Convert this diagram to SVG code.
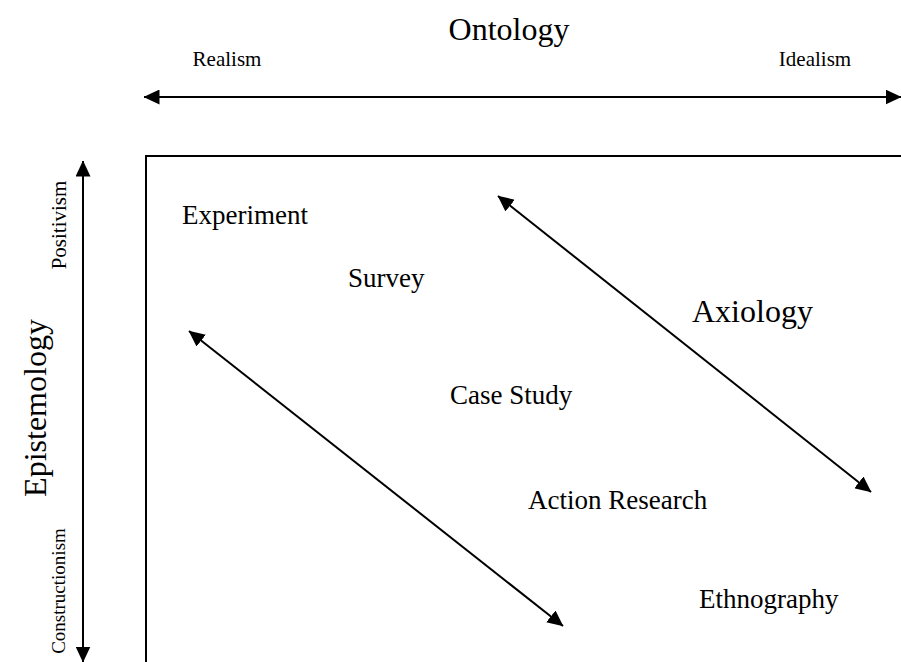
<svg xmlns="http://www.w3.org/2000/svg" width="901" height="662" viewBox="0 0 901 662">
<style>
text{font-family:"Liberation Serif","Times New Roman",serif;fill:#000}
.big{font-size:32px}
.mid{font-size:27px}
.sm{font-size:21px}
.ln{stroke:#000;stroke-width:2;fill:none}
</style>
<defs>
<marker id="ah" viewBox="0 0 16 15" refX="15.5" refY="7.5" markerWidth="16" markerHeight="15" markerUnits="userSpaceOnUse" orient="auto-start-reverse">
<path d="M0,0 L16,7.5 L0,15 Z" fill="#000"/>
</marker>
</defs>
<rect width="901" height="662" fill="#fff"/>
<g id="axes">
<g id="ontology">
<text class="big" x="509" y="40" text-anchor="middle">Ontology</text>
<text class="sm" x="227" y="66" text-anchor="middle">Realism</text>
<text class="sm" x="815" y="66" text-anchor="middle">Idealism</text>
</g>
<g id="epistemology">
<text class="big" transform="translate(46,408) rotate(-90)" text-anchor="middle">Epistemology</text>
<text class="sm" transform="translate(66,225) rotate(-90)" text-anchor="middle">Positivism</text>
<text class="sm" transform="translate(65,591) rotate(-90)" text-anchor="middle" style="font-size:19px">Constructionism</text>
</g>
</g>
<g id="connectors">
<line class="ln" x1="144" y1="97" x2="901" y2="97" marker-start="url(#ah)" marker-end="url(#ah)"/>
<line class="ln" x1="83" y1="161" x2="83" y2="662" marker-start="url(#ah)" marker-end="url(#ah)"/>
<line class="ln" x1="498" y1="196" x2="871" y2="492" marker-start="url(#ah)" marker-end="url(#ah)"/>
<line class="ln" x1="189" y1="331" x2="563" y2="626" marker-start="url(#ah)" marker-end="url(#ah)"/>
</g>
<g id="frame">
<polyline class="ln" points="146,662 146,156 902,156"/>
</g>
<g id="methods" class="mid">
<g id="experiment"><text x="182" y="224">Experiment</text></g>
<g id="survey"><text x="348" y="287">Survey</text></g>
<g id="axiology"><text class="big" x="692" y="322">Axiology</text></g>
<g id="casestudy"><text x="450" y="404">Case Study</text></g>
<g id="actionresearch"><text x="528" y="509">Action Research</text></g>
<g id="ethnography"><text x="699" y="608">Ethnography</text></g>
</g>
</svg>
